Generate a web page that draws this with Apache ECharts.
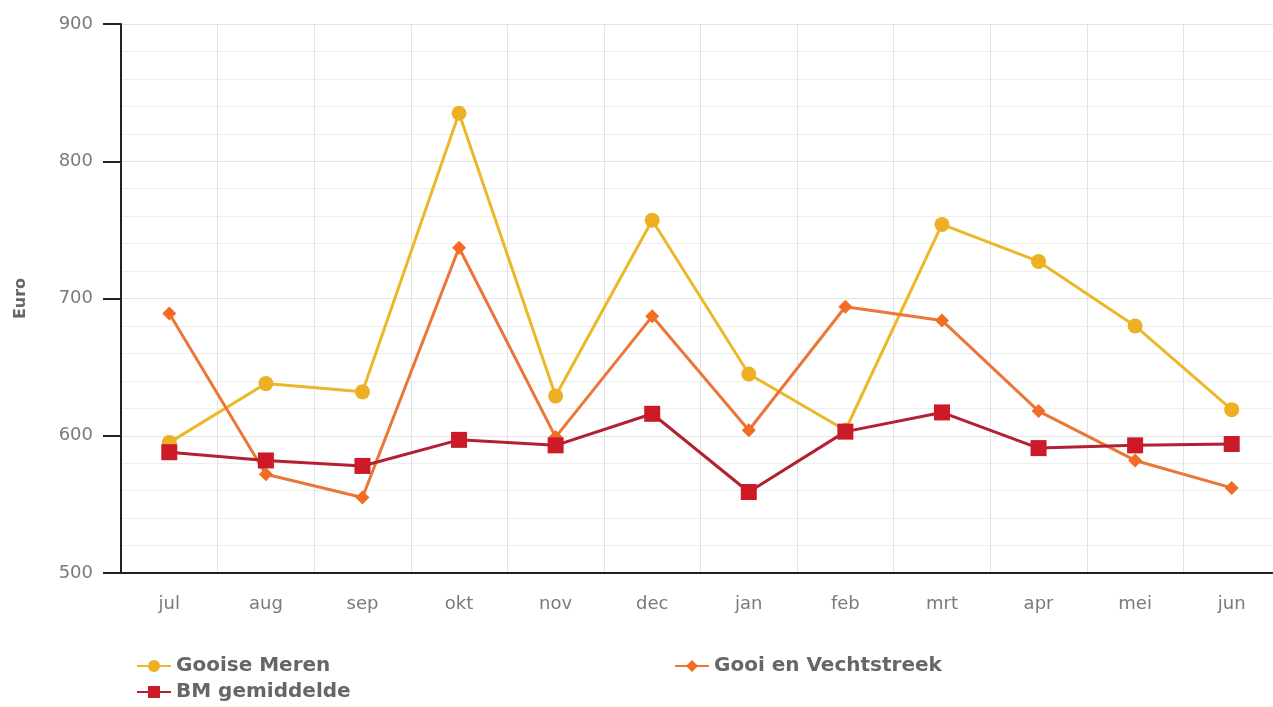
<!DOCTYPE html>
<html><head><meta charset="utf-8">
<script src="https://cdn.jsdelivr.net/npm/echarts@6/dist/echarts.min.js"></script>
<style>html,body{margin:0;padding:0;background:#fff;overflow:hidden}#c{width:1273px;height:707px}</style>
</head><body><div id="c"></div>
<script>
const categories = ['jul','aug','sep','okt','nov','dec','jan','feb','mrt','apr','mei','jun'];
const gooiseMeren = [595, 638, 632, 835, 629, 757, 645, 604, 754, 727, 680, 619];
const gooiVecht = [689, 572, 555, 737, 599, 687, 604, 694, 684, 618, 582, 562];
const bmGemiddelde = [588, 582, 578, 597, 593, 616, 559, 603, 617, 591, 593, 594];
const yTicks = [500, 600, 700, 800, 900];

const chart = echarts.init(document.getElementById('c'), null, {renderer:'canvas'});
const font = 'DejaVu Sans, sans-serif';
chart.setOption({
  animation: false,
  backgroundColor: '#fff',
  grid: {left: 121, top: 24, bottom: 134, width: 1159, outerBoundsMode: 'none', containLabel: false},
  xAxis: {
    type: 'category', data: categories, boundaryGap: true,
    axisLine: {lineStyle: {color: '#222', width: 2}},
    axisTick: {show: false},
    axisLabel: {color: '#7a7a7a', fontSize: 18, fontFamily: font, margin: 22},
    splitLine: {show: true, lineStyle: {color: '#e3e3e3', width: 1}}
  },
  yAxis: {
    type: 'value', min: yTicks[0], max: yTicks[yTicks.length-1], interval: 100,
    name: 'Euro', nameLocation: 'middle', nameGap: 92, nameRotate: 90,
    nameTextStyle: {color: '#666', fontSize: 16, fontWeight: 'bold', fontFamily: font},
    axisLine: {show: true, lineStyle: {color: '#222', width: 2}},
    axisTick: {show: true, length: 18, lineStyle: {color: '#222', width: 2}},
    axisLabel: {color: '#7a7a7a', fontSize: 18, fontFamily: font, margin: 28},
    splitLine: {show: true, lineStyle: {color: '#e3e3e3', width: 1}},
    minorTick: {show: false, splitNumber: 5},
    minorSplitLine: {show: true, lineStyle: {color: '#eeeeee', width: 1}}
  },
  legend: [
    {data: ['Gooise Meren', 'BM gemiddelde'], orient: 'vertical', left: 131, top: 651, itemGap: 6,
     itemWidth: 34, itemHeight: 15, textStyle: {color: '#666', fontSize: 20, fontWeight: 'bold', fontFamily: font}},
    {data: ['Gooi en Vechtstreek'], orient: 'vertical', left: 669, top: 651,
     itemWidth: 34, itemHeight: 15, textStyle: {color: '#666', fontSize: 20, fontWeight: 'bold', fontFamily: font}}
  ],
  series: [
    {name: 'Gooise Meren', type: 'line', data: gooiseMeren, symbol: 'circle', symbolSize: 15,
     lineStyle: {color: '#EDB72A', width: 3}, itemStyle: {color: '#EDB024'}, z: 2},
    {name: 'Gooi en Vechtstreek', type: 'line', data: gooiVecht, symbol: 'diamond', symbolSize: 14,
     lineStyle: {color: '#EC7538', width: 3}, itemStyle: {color: '#F26C24'}, z: 3},
    {name: 'BM gemiddelde', type: 'line', data: bmGemiddelde, symbol: 'rect', symbolSize: 16,
     lineStyle: {color: '#B3202F', width: 3}, itemStyle: {color: '#CC1A28'}, z: 4}
  ]
});
</script></body></html>
